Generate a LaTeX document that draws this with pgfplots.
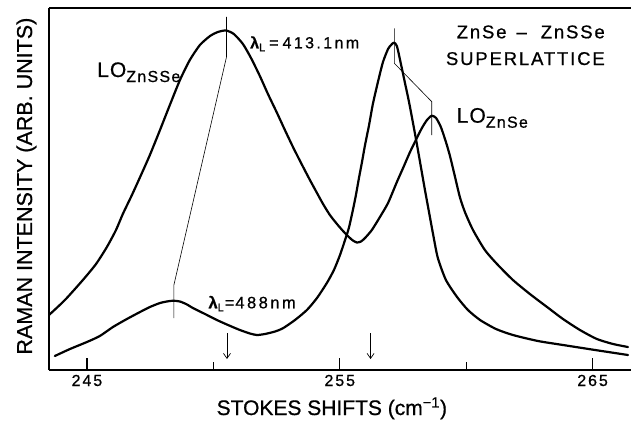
\documentclass[border=0pt]{standalone}
\usepackage{fontspec}
\setmainfont{Liberation Sans}[FakeBold=0.7]
\newfontfamily\lsfive{Liberation Sans}[LetterSpace=5,FakeBold=0.7]
\newfontfamily\lseight{Liberation Sans}[LetterSpace=8,FakeBold=0.7]
\newfontfamily\lsten{Liberation Sans}[LetterSpace=10,FakeBold=0.7]
\newfontfamily\lstwelve{Liberation Sans}[LetterSpace=12,FakeBold=0.7]
\newfontfamily\lsfifteen{Liberation Sans}[LetterSpace=15,FakeBold=0.7]
\usepackage{pgfplots}
\pgfplotsset{compat=1.18}
\usetikzlibrary{arrows.meta}
\begin{document}
\begin{tikzpicture}
\begin{axis}[
  name=ax,
  scale only axis,
  width=582pt, height=362pt,
  xmin=243.50, xmax=266.52, ymin=0, ymax=362,
  axis lines=left,
  axis line style={-, line width=1.4pt},
  xtick={245,255,265},
  xticklabels={245,255,265},
  minor xtick={250,260},
  ytick=\empty,
  tick align=inside,
  major tick length=12pt,
  minor tick length=8pt,
  every tick/.style={black, line width=1.3pt},
  xticklabel style={anchor=base, yshift=-16pt, font=\fontsize{16}{16}\selectfont\lstwelve},
  clip=false,
]
% top frame line
\draw[line width=1.4pt] (rel axis cs:0,1) -- (rel axis cs:1,1);

% lambda_L = 413.1 nm spectrum
\addplot[black, line width=2.2pt, smooth, tension=0.4, line cap=round, line join=round] coordinates {
(243.50,55) (244.13,70) (244.84,90) (245.36,106) (245.79,123) (246.15,140)
(246.42,156) (246.78,175) (247.14,195) (247.49,215) (247.89,240) (248.28,265)
(248.68,290) (249.07,310) (249.47,325) (249.87,334) (250.18,338) (250.50,339.5)
(250.81,336) (251.17,326) (251.49,312) (251.84,294) (252.16,276) (252.52,257)
(252.83,240) (253.15,223) (253.47,207) (253.82,190) (254.10,177) (254.34,166)
(254.61,155) (254.89,146) (255.13,139) (255.36,133) (255.52,129.5) (255.68,127.5)
(255.84,128.5) (256.00,132) (256.27,140) (256.59,153) (256.91,167) (257.26,188)
(257.54,204) (257.78,218) (258.05,232) (258.25,242) (258.45,250) (258.64,254.3)
(258.81,252) (259.00,243) (259.20,228) (259.36,214) (259.56,193) (259.75,173)
(259.95,158) (260.27,140) (260.74,120) (261.22,106) (261.85,90) (262.52,76)
(263.20,63) (263.83,51) (264.50,40) (265.17,31) (265.81,26) (266.40,23)
};

% lambda_L = 488 nm spectrum
\addplot[black, line width=2.2pt, smooth, tension=0.4, line cap=round, line join=round] coordinates {
(243.73,14) (244.33,21) (245.00,28) (245.51,34) (246.03,43) (246.58,51)
(247.10,58) (247.49,63) (247.89,67) (248.16,68.5) (248.41,69.3) (248.68,68.5)
(248.96,65.5) (249.19,62) (249.67,56) (250.14,50) (250.58,45) (251.05,40)
(251.45,36.5) (251.72,35) (252.04,36) (252.44,38.5) (252.75,41.7) (253.23,50)
(253.70,60) (254.10,72) (254.49,87) (254.77,100) (255.01,115) (255.21,130)
(255.36,142) (255.52,160) (255.64,175) (255.76,192) (255.88,208) (256.00,225)
(256.16,245) (256.31,266) (256.51,288) (256.71,308) (256.91,321) (257.03,325)
(257.14,327.3) (257.26,324) (257.42,306) (257.58,287) (257.74,268) (257.89,248)
(258.05,226) (258.21,203) (258.37,180) (258.53,158) (258.69,136) (258.88,112)
(259.20,90) (259.64,73) (260.07,60) (260.55,50) (261.18,41)
(261.85,35) (262.84,29) (263.83,25) (265.10,20) (266.40,15)
};

% peak connector lines
\addplot[black, line width=0.6pt] coordinates {(250.52,353) (250.52,313) (248.44,85) (248.44,52)};
\addplot[black, line width=0.6pt] coordinates {(257.16,341.7) (257.16,306.7) (258.64,268.3) (258.64,235)};

% arrows
\draw[-{Straight Barb[length=5pt,width=7pt]}, line width=0.7pt] (axis cs:250.54,37) -- (axis cs:250.54,11);
\draw[-{Straight Barb[length=5pt,width=7pt]}, line width=0.7pt] (axis cs:256.22,37) -- (axis cs:256.22,11);

% labels
\node[anchor=base west, inner sep=0pt] at (axis cs:245.40,293)
  {\fontsize{21}{21}\selectfont\lsfive LO\raisebox{-5pt}{\fontsize{16}{16}\selectfont\lseight ZnSSe}};
\node[anchor=base west, inner sep=0pt] at (axis cs:259.62,247.3)
  {\fontsize{21}{21}\selectfont\lsfive LO\raisebox{-5pt}{\fontsize{16}{16}\selectfont\lseight ZnSe}};
\node[anchor=base west, inner sep=0pt] at (axis cs:251.45,321.7)
  {\fontsize{16}{16}\selectfont\lsfifteen{\bfseries λ}\raisebox{-3pt}{\fontsize{11}{11}\selectfont L}\hspace{4pt}=\hspace{4pt}413.1nm};
\node[anchor=base west, inner sep=0pt] at (axis cs:249.80,61.7)
  {\fontsize{16.5}{16.5}\selectfont\lsfifteen{\bfseries λ}\raisebox{-3pt}{\fontsize{11}{11}\selectfont L}\hspace{1pt}=\hspace{1pt}488nm};
\node[anchor=base east, inner sep=0pt] at (axis cs:265.49,331.7)
  {\fontsize{18.5}{18.5}\selectfont\lsten ZnSe\hspace{10pt}\char"2013\hspace{14pt}ZnSSe};
\node[anchor=base east, inner sep=0pt] at (axis cs:265.49,305)
  {\fontsize{18.5}{18.5}\selectfont\lsten SUPERLATTICE};

% axis labels
\node[anchor=base, inner sep=0pt, yshift=-45pt] at (rel axis cs:0.486,0)
  {\fontsize{21}{21}\selectfont STOKES SHIFTS (cm\textsuperscript{\char"2212 1})};
\node[xshift=-17pt, rotate=90, anchor=base, inner sep=0pt] at (rel axis cs:0,0.508)
  {\fontsize{21.5}{21.5}\selectfont RAMAN INTENSITY (ARB. UNITS)};
\end{axis}
\pgfresetboundingbox
\path[use as bounding box] ([xshift=-49pt,yshift=-51pt]ax.south west) rectangle ([yshift=8pt]ax.north east);
\end{tikzpicture}
\end{document}
